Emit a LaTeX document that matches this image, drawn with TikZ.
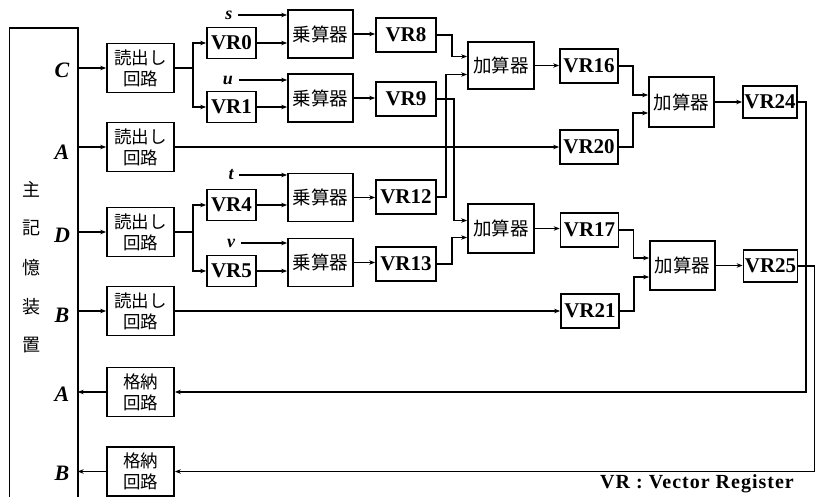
\documentclass[tikz,border=0pt]{standalone}
\usepackage{fontspec}
\setmainfont{Liberation Serif}
\newfontfamily\cjk{Noto Sans CJK JP}
\usetikzlibrary{arrows.meta}
\begin{document}
\begin{tikzpicture}[x=1pt,y=-1pt,line width=1.3pt,
  box/.style={draw,line width=1.7pt,inner sep=0pt,align=center},
  vrfont/.style={font=\fontsize{21}{22}\selectfont\bfseries},
  vrs/.style={box,vrfont,minimum width=49pt,minimum height=31pt},
  vrm/.style={box,vrfont,minimum width=60pt,minimum height=34pt},
  vrl/.style={box,vrfont,minimum width=58pt,minimum height=34pt},
  vrf/.style={box,vrfont,minimum width=54pt,minimum height=32pt},
  jbox/.style={box,minimum width=67pt,minimum height=49pt,font=\cjk\fontsize{17.5}{21}\selectfont},
  opbox/.style={box,minimum width=65pt,minimum height=48pt,font=\cjk\fontsize{18.5}{20}\selectfont},
  conn/.style={-{Stealth[length=6pt,width=4.5pt]},line width=1.3pt},
  port/.style={inner sep=0pt,font=\fontsize{22}{22}\selectfont\bfseries\itshape},
  inlab/.style={inner sep=0pt,font=\fontsize{18}{18}\selectfont\bfseries\itshape},
  memtxt/.style={inner sep=0pt,font=\cjk\fontsize{18}{18}\selectfont},
]
\useasboundingbox (0,0) rectangle (815,497);
% main memory
\node[minimum width=67pt,minimum height=468pt,inner sep=0pt] (mem) at (43.5,263) {};
\draw[line width=1.7pt] (mem.south west) -- (mem.north west) -- (mem.north east) -- (mem.south east);
\node[memtxt] (m-1) at (32,189) {主};
\node[memtxt] (m-2) at (32,228) {記};
\node[memtxt] (m-3) at (32,268) {憶};
\node[memtxt] (m-4) at (32,307) {装};
\node[memtxt] (m-5) at (32,345) {置};
\node[port] (pC) at (62,70) {C};
\node[port] (pA) at (62,152) {A};
\node[port] (pD) at (62,235) {D};
\node[port] (pB) at (62,315) {B};
\node[port] (pA2) at (62,394) {A};
\node[port] (pB2) at (62,473) {B};
% read / store circuits
\node[jbox] (rC) at (140.5,68) {読出し\\回路};
\node[jbox] (rA) at (140.5,147) {読出し\\回路};
\node[jbox] (rD) at (140.5,232) {読出し\\回路};
\node[jbox] (rB) at (140.5,311) {読出し\\回路};
\node[jbox] (sA) at (140.5,392) {格納\\回路};
\node[jbox] (sB) at (140.5,471.5) {格納\\回路};
% first-stage registers
\node[vrs] (VR0) at (231.5,43) {VR0};
\node[vrs] (VR1) at (231.5,107) {VR1};
\node[vrs] (VR4) at (231.5,205) {VR4};
\node[vrs] (VR5) at (231.5,271) {VR5};
% scalar inputs
\node[inlab] (ls) at (229,15) {s};
\node[inlab] (lu) at (228,80) {u};
\node[inlab] (lt) at (231,175) {t};
\node[inlab] (lv) at (231,243) {v};
% multipliers
\node[opbox] (m1) at (320.5,34) {乗算器};
\node[opbox] (m2) at (320.5,98) {乗算器};
\node[opbox] (m3) at (320.5,197.5) {乗算器};
\node[opbox] (m4) at (320.5,262.5) {乗算器};
% second-stage registers
\node[vrm] (VR8) at (406,35) {VR8};
\node[vrm] (VR9) at (406,99) {VR9};
\node[vrm] (VR12) at (406,197) {VR12};
\node[vrm] (VR13) at (406,264) {VR13};
% adders
\node[opbox,minimum width=66pt,minimum height=47pt] (a1) at (501,65.5) {加算器};
\node[opbox,minimum width=66pt,minimum height=49pt] (a2) at (501,228.5) {加算器};
\node[vrl] (VR16) at (589,66) {VR16};
\node[vrl] (VR20) at (589,147) {VR20};
\node[vrl] (VR17) at (589.5,230) {VR17};
\node[vrl] (VR21) at (590,311) {VR21};
\node[opbox,minimum width=65pt,minimum height=50pt] (a3) at (681.5,102) {加算器};
\node[opbox,minimum width=65pt,minimum height=49pt] (a4) at (682.5,265.5) {加算器};
\node[vrf] (VR24) at (770,102) {VR24};
\node[vrf] (VR25) at (770.5,266) {VR25};
% legend
\node[inner sep=0pt,font=\fontsize{20}{22}\selectfont\bfseries\addfontfeature{LetterSpace=5}] (leg) at (697,484) {VR : Vector Register};
% connectors: memory -> readout
\draw[conn] (mem.east |- rC.west) -- (rC.west);
\draw[conn] (mem.east |- rA.west) -- (rA.west);
\draw[conn] (mem.east |- rD.west) -- (rD.west);
\draw[conn] (mem.east |- rB.west) -- (rB.west);
\draw[conn] (sA.west) -- (sA.west -| mem.east);
\draw[conn] (sB.west) -- (sB.west -| mem.east);
% readout -> registers
\draw[conn] (rC.east) -- ++(18,0) |- (VR0.west);
\draw[conn] (rC.east) ++(18,0) |- (VR1.west);
\draw[conn] (rD.east) -- ++(18,0) |- (VR4.west);
\draw[conn] (rD.east) ++(18,0) |- (VR5.west);
\draw[conn] (rA.east) -- (VR20.west);
\draw[conn] (rB.east) -- (VR21.west);
% scalar -> multipliers
\draw[conn] (ls.east) ++(5,0) -- (ls.east -| m1.west);
\draw[conn] (lu.east) ++(5,0) -- (lu.east -| m2.west);
\draw[conn] (lt.east) ++(5,0) -- (lt.east -| m3.west);
\draw[conn] (lv.east) ++(5,0) -- (lv.east -| m4.west);
\draw[conn] (VR0.east) -- (VR0.east -| m1.west);
\draw[conn] (VR1.east) -- (VR1.east -| m2.west);
\draw[conn] (VR4.east) -- (VR4.east -| m3.west);
\draw[conn] (VR5.east) -- (VR5.east -| m4.west);
% multipliers -> registers
\draw[conn] (m1.east) -- (m1.east -| VR8.west);
\draw[conn] (m2.east) -- (m2.east -| VR9.west);
\draw[conn] (m3.east) -- (m3.east -| VR12.west);
\draw[conn] (m4.east) -- (m4.east -| VR13.west);
% registers -> adders
\draw[conn] (VR8.east) -- ++(15,0) |- ([yshift=9pt]a1.west);
\draw[conn] (VR12.east) -- ++(9,0) |- ([yshift=-9pt]a1.west);
\draw[conn] (VR9.east) -- ++(17,0) |- ([yshift=8pt]a2.west);
\draw[conn] (VR13.east) -- ++(15,0) |- ([yshift=-9pt]a2.west);
\draw[conn] (a1.east) -- (a1.east -| VR16.west);
\draw[conn] (a2.east) -- (a2.east -| VR17.west);
\draw[conn] (VR16.east) -- ++(14,0) |- ([yshift=7pt]a3.west);
\draw[conn] (VR20.east) -- ++(14,0) |- ([yshift=-11pt]a3.west);
\draw[conn] (VR17.east) -- ++(14,0) |- ([yshift=7.5pt]a4.west);
\draw[conn] (VR21.east) -- ++(14,0) |- ([yshift=-11.5pt]a4.west);
\draw[conn] (a3.east) -- (a3.east -| VR24.west);
\draw[conn] (a4.east) -- (a4.east -| VR25.west);
% results -> store circuits
\draw[conn] (VR24.east) -- ++(8,0) |- (sA.east);
\draw[conn] (VR25.east) -- ++(16,0) |- (sB.east);
\end{tikzpicture}
\end{document}
